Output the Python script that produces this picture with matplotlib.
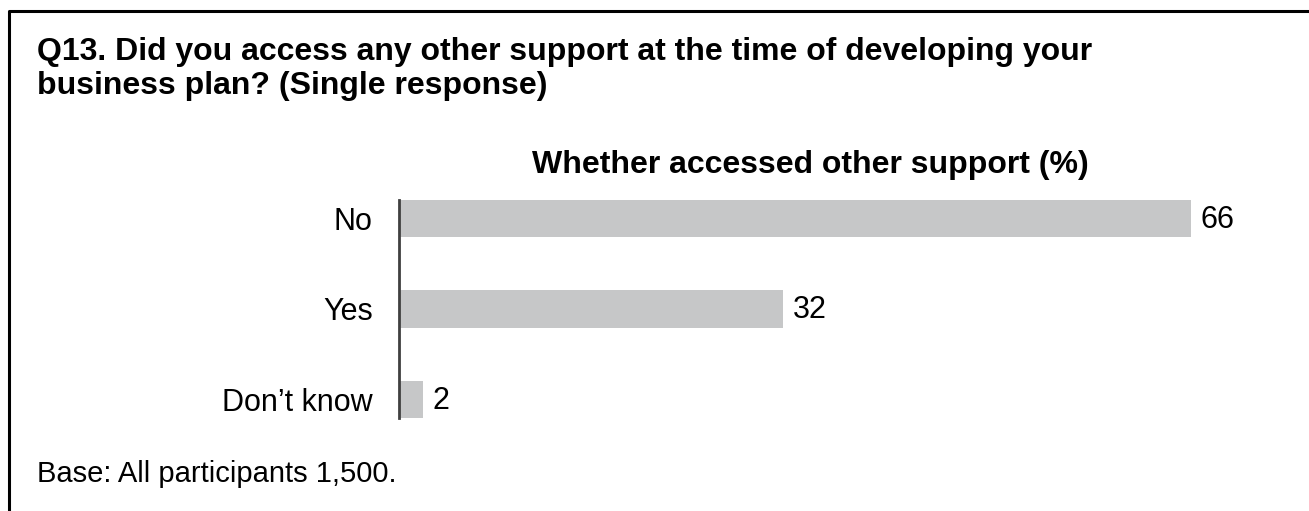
import matplotlib
matplotlib.use("Agg")
import matplotlib.pyplot as plt
from matplotlib.lines import Line2D

plt.rcParams['font.family'] = ['Liberation Sans', 'DejaVu Sans']

categories = ["No", "Yes", "Don\u2019t know"]
values = [66, 32, 2]
question = ["Q13. Did you access any other support at the time of developing your",
            "business plan? (Single response)"]
chart_title = "Whether accessed other support (%)"
base_note = "Base: All participants 1,500."

W, H = 1309, 511
fig = plt.figure(figsize=(W / 100, H / 100), dpi=100)

# frame on the left and top
fig.add_artist(Line2D([9 / W, 9 / W, 1], [0, 1 - 11 / H, 1 - 11 / H],
                      color='black', lw=2.2, transform=fig.transFigure))

ax = fig.add_axes([399 / W, (H - 418) / H, 900 / W, 218 / H])
pos = list(range(len(categories)))
h = 0.41
ax.barh(pos, values, height=h, color='#c6c7c8')
ax.set_ylim(len(categories) - 1 + h / 2, -h / 2)
ax.set_xlim(0, 75)
ax.set_yticks(pos)
ax.set_yticklabels(categories, fontsize=22)
ax.tick_params(axis='y', length=0, pad=19)
ax.set_xticks([])
for s in ['top', 'right', 'bottom']:
    ax.spines[s].set_visible(False)
ax.spines['left'].set_color('#404040')
ax.spines['left'].set_linewidth(2)

for p, v in zip(pos, values):
    ax.annotate(str(v), (v, p), xytext=(7, -1), textcoords='offset points',
                va='center', ha='left', fontsize=22)

# question, one line at a time on its baseline
for i, line in enumerate(question):
    fig.text(37 / W, 1 - (60 + 34 * i) / H, line, fontsize=23, fontweight='bold',
             va='baseline', ha='left')
fig.text(810 / W, 1 - 165 / H, chart_title, fontsize=23, fontweight='bold',
         va='center', ha='center')
fig.text(37 / W, 1 - 482 / H, base_note, fontsize=21, va='baseline', ha='left')

fig.savefig("out.png", dpi=100)
